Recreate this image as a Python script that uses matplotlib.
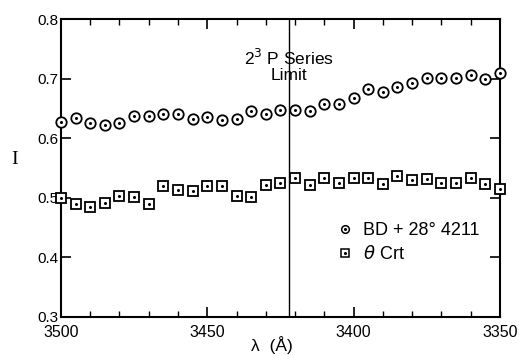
import matplotlib.pyplot as plt
from matplotlib.lines import Line2D
from matplotlib.ticker import MultipleLocator, FormatStrFormatter

plt.rcParams["font.family"] = ["Liberation Sans", "DejaVu Sans"]

# wavelengths (Angstrom), every 5 A from 3500 down to 3350
wavelength = [3500, 3495, 3490, 3485, 3480, 3475, 3470, 3465, 3460, 3455, 3450,
              3445, 3440, 3435, 3430, 3425, 3420, 3415, 3410, 3405, 3400,
              3395, 3390, 3385, 3380, 3375, 3370, 3365, 3360, 3355, 3350]

bd_star = [0.627, 0.634, 0.625, 0.622, 0.626, 0.637, 0.638, 0.640, 0.640, 0.632, 0.635,
           0.631, 0.633, 0.646, 0.641, 0.647, 0.647, 0.645, 0.657, 0.657, 0.668,
           0.682, 0.678, 0.686, 0.692, 0.701, 0.701, 0.701, 0.706, 0.699, 0.710]

theta_crt = [0.500, 0.490, 0.485, 0.492, 0.503, 0.501, 0.489, 0.519, 0.513, 0.511, 0.520,
             0.520, 0.503, 0.502, 0.521, 0.525, 0.534, 0.521, 0.534, 0.525, 0.534,
             0.534, 0.523, 0.536, 0.530, 0.532, 0.524, 0.525, 0.534, 0.523, 0.515]

series_limit = 3422

fig = plt.figure(figsize=(5.19, 3.56), dpi=100)
ax = fig.add_axes([0.1175, 0.1096, 0.8455, 0.837])

mk = dict(linestyle="none", markerfacecolor="white", markeredgecolor="black",
          markeredgewidth=1.3, markersize=7.5)
dot = dict(linestyle="none", marker="o", color="black", markersize=1.2)

ax.plot(wavelength, bd_star, marker="o", clip_on=False, zorder=3, **mk)
ax.plot(wavelength, bd_star, clip_on=False, zorder=4, **dot)
ax.plot(wavelength, theta_crt, marker="s", clip_on=False, zorder=3, **mk)
ax.plot(wavelength, theta_crt, clip_on=False, zorder=4, **dot)

ax.axvline(series_limit, color="black", lw=1.0)
ax.text(series_limit, 0.722, "2$^3$ P Series\nLimit", ha="center", va="center",
        fontsize=12.5, linespacing=1.05)

ax.set_xlim(3500, 3350)
ax.set_ylim(0.3, 0.8)
ax.xaxis.set_major_locator(MultipleLocator(50))
ax.xaxis.set_minor_locator(MultipleLocator(10))
ax.yaxis.set_major_locator(MultipleLocator(0.1))
ax.yaxis.set_major_formatter(FormatStrFormatter("%.1f"))
ax.tick_params(which="both", direction="in", top=True, right=True)
ax.tick_params(axis="x", pad=6, labelsize=11.5)
ax.tick_params(axis="y", pad=2, labelsize=11)
ax.tick_params(which="major", length=7, width=1.2)
ax.tick_params(which="minor", length=4, width=1.0)
for sp in ax.spines.values():
    sp.set_linewidth(1.5)

ax.set_xlabel("λ  (Å)", fontsize=12.5)
ax.xaxis.set_label_coords(0.48, -0.065)
ax.set_ylabel("I", fontsize=14, rotation=0, labelpad=16, family="Liberation Serif")

# legend handles: small open markers with centre dot
small = dict(linestyle="none", markerfacecolor="white", markeredgecolor="black",
             markeredgewidth=1.1, markersize=5.5)
h1 = (Line2D([], [], marker="o", **small), Line2D([], [], **dot))
h2 = (Line2D([], [], marker="s", **small), Line2D([], [], **dot))
ax.legend([h1, h2], ["BD + 28° 4211", "$\\theta$ Crt"],
          loc="center left", bbox_to_anchor=(0.59, 0.25), frameon=False,
          fontsize=13, handlelength=1.0, handletextpad=0.5, labelspacing=0.35)

fig.savefig("out.png", dpi=100)
